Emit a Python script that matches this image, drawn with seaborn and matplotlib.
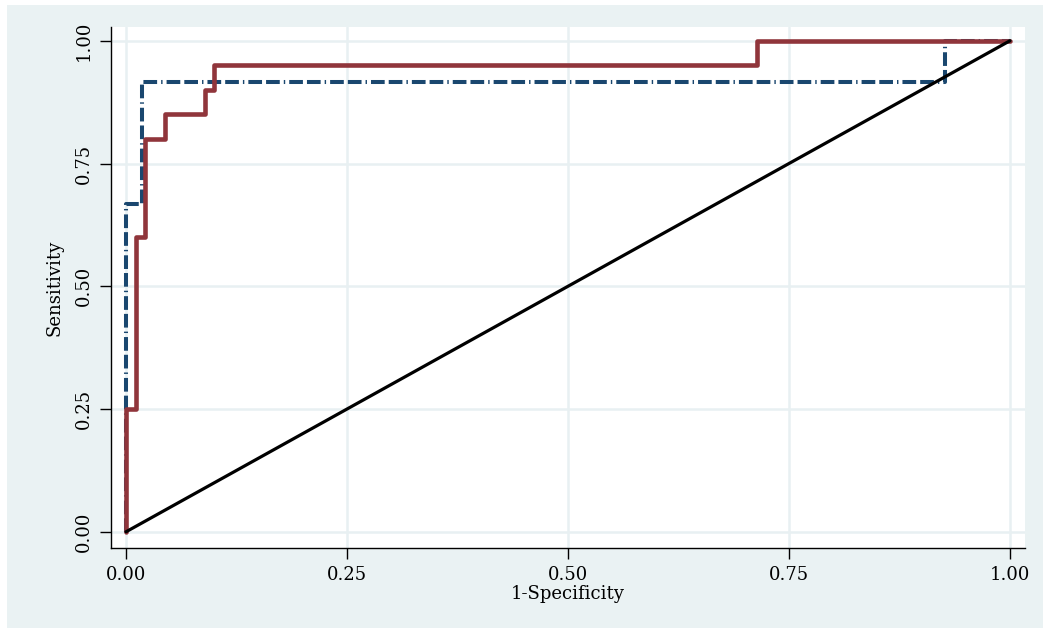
import pandas as pd
import matplotlib
matplotlib.use("Agg")
import matplotlib.pyplot as plt
import seaborn as sns

# ROC vertices (1-specificity, sensitivity)
fpr_red = [0.0, 0.0, 0.011, 0.022, 0.044, 0.089, 0.100, 0.714, 1.0]
tpr_red = [0.0, 0.25, 0.60, 0.80, 0.85, 0.90, 0.95, 1.00, 1.0]

fpr_blue = [0.0, 0.0, 0.018, 0.927, 1.0]
tpr_blue = [0.0, 0.667, 0.917, 1.00, 1.0]

ref_x = [0.0, 1.0]
ref_y = [0.0, 1.0]

ticks = [0.0, 0.25, 0.50, 0.75, 1.00]
tick_labels = ["0.00", "0.25", "0.50", "0.75", "1.00"]

bg = "#EAF2F3"
grid_col = "#E8F0F2"
navy = "#1A476F"
maroon = "#90353B"

sns.set_style("white")
plt.rcParams["font.family"] = ["DejaVu Serif"]
plt.rcParams["text.color"] = "black"
plt.rcParams["xtick.color"] = "black"
plt.rcParams["ytick.color"] = "black"
plt.rcParams["axes.labelcolor"] = "black"

fig = plt.figure(figsize=(10.43, 6.28), dpi=100)
fig.patch.set_facecolor("white")
# light bluish graph region (Stata s2color look), white sliver on left/top
fig.patches.append(plt.Rectangle((7 / 1043, 0), 1 - 7 / 1043, 1 - 5 / 628,
                                 transform=fig.transFigure, facecolor=bg,
                                 edgecolor="none", zorder=-10))

ax = fig.add_axes([111 / 1043, 1 - 548 / 628, (1025 - 111) / 1043, (548 - 27) / 628])
ax.set_facecolor("white")

df_red = pd.DataFrame({"x": fpr_red, "y": tpr_red})
df_blue = pd.DataFrame({"x": fpr_blue, "y": tpr_blue})
df_ref = pd.DataFrame({"x": ref_x, "y": ref_y})

sns.lineplot(data=df_blue, x="x", y="y", estimator=None, sort=False, ax=ax,
             color=navy, lw=2.9, drawstyle="steps-post",
             linestyle=(0, (3.4, 1.0, 3.4, 1.0, 0.35, 1.0)), zorder=3)
sns.lineplot(data=df_red, x="x", y="y", estimator=None, sort=False, ax=ax,
             color=maroon, lw=3.3, drawstyle="steps-post", zorder=4)
sns.lineplot(data=df_ref, x="x", y="y", estimator=None, sort=False, ax=ax,
             color="black", lw=2.3, zorder=5)

ax.set_xlim(-0.017, 1.017)
ax.set_ylim(-0.033, 1.028)
ax.set_xticks(ticks)
ax.set_xticklabels(tick_labels, fontsize=13)
ax.set_yticks(ticks)
ax.set_yticklabels(tick_labels, fontsize=13, rotation=90, va="center")
ax.grid(True, color=grid_col, lw=1.8)
ax.set_axisbelow(True)

for side in ["top", "right"]:
    ax.spines[side].set_visible(False)
for side in ["left", "bottom"]:
    ax.spines[side].set_color("black")
    ax.spines[side].set_linewidth(1.0)
ax.tick_params(axis="both", direction="out", length=8, width=1.0, color="black",
               left=True, bottom=True, pad=5)

ax.set_xlabel("1-Specificity", fontsize=13, labelpad=1)
ax.set_ylabel("Sensitivity", fontsize=13, labelpad=8)

fig.savefig("out.png", dpi=100, facecolor=fig.get_facecolor())
